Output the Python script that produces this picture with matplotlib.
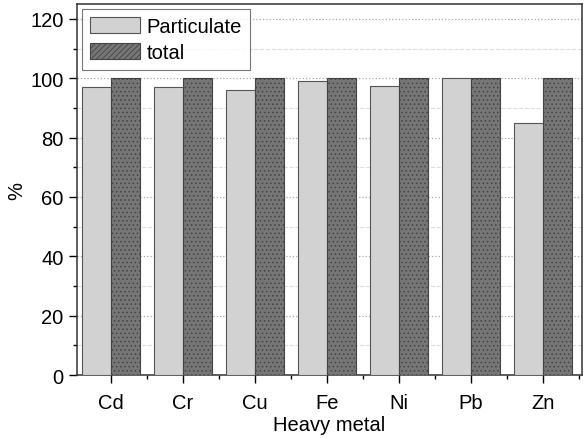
import matplotlib
matplotlib.use('Agg')
import matplotlib.pyplot as plt
import numpy as np
from matplotlib.ticker import MultipleLocator

plt.rcParams['font.family'] = ['Liberation Sans', 'DejaVu Sans']
plt.rcParams['hatch.linewidth'] = 0.6

metals = ['Cd', 'Cr', 'Cu', 'Fe', 'Ni', 'Pb', 'Zn']
particulate = [97, 97, 96, 99, 97.5, 100, 85]
total = [100, 100, 100, 100, 100, 100, 100]

fig = plt.figure(figsize=(5.87, 4.39), dpi=100)
ax = fig.add_axes([0.131, 0.1435, 0.86, 0.845])

x = np.arange(len(metals))
w = 0.4
ax.bar(x - w/2, particulate, w, color='#d2d2d2', edgecolor='#555555', linewidth=0.8,
       label='Particulate', zorder=3)
plt.rcParams['hatch.color'] = '#505050'
ax.bar(x + w/2, total, w, color='#767676', edgecolor='#444444', linewidth=0.8,
       hatch='....', label='total', zorder=3)

ax.set_xlim(-0.47, 6.54)
ax.set_ylim(0, 125)
ax.set_xticks(x)
ax.set_xticklabels(metals)
ax.set_xticks(x + 0.5, minor=True)
ax.yaxis.set_major_locator(MultipleLocator(20))
ax.yaxis.set_minor_locator(MultipleLocator(10))
ax.tick_params(axis='both', which='major', length=6, width=1, labelsize=14.5)
ax.tick_params(axis='both', which='minor', length=3, width=1)
ax.tick_params(axis='x', pad=7)

ax.grid(True, axis='y', which='major', linestyle=':', color='#aaaaaa', linewidth=0.9, zorder=0)
ax.grid(True, axis='y', which='minor', linestyle='--', color='#dddddd', linewidth=0.8, zorder=0)
for s in ax.spines.values():
    s.set_linewidth(1.1)
    s.set_color('#333333')

ax.set_xlabel('Heavy metal', fontsize=14.5, labelpad=2)
ax.set_ylabel('%', fontsize=14.5, labelpad=3)

leg = ax.legend(loc='upper left', fontsize=14.5, frameon=True, fancybox=False,
                edgecolor='#555555', handlelength=2.5, handleheight=0.85,
                borderpad=0.4, labelspacing=0.35, handletextpad=0.3,
                borderaxespad=0.25)
leg.get_frame().set_linewidth(0.8)
leg.legend_handles[1].set_hatch('//////')

fig.savefig('out.png', dpi=100)
